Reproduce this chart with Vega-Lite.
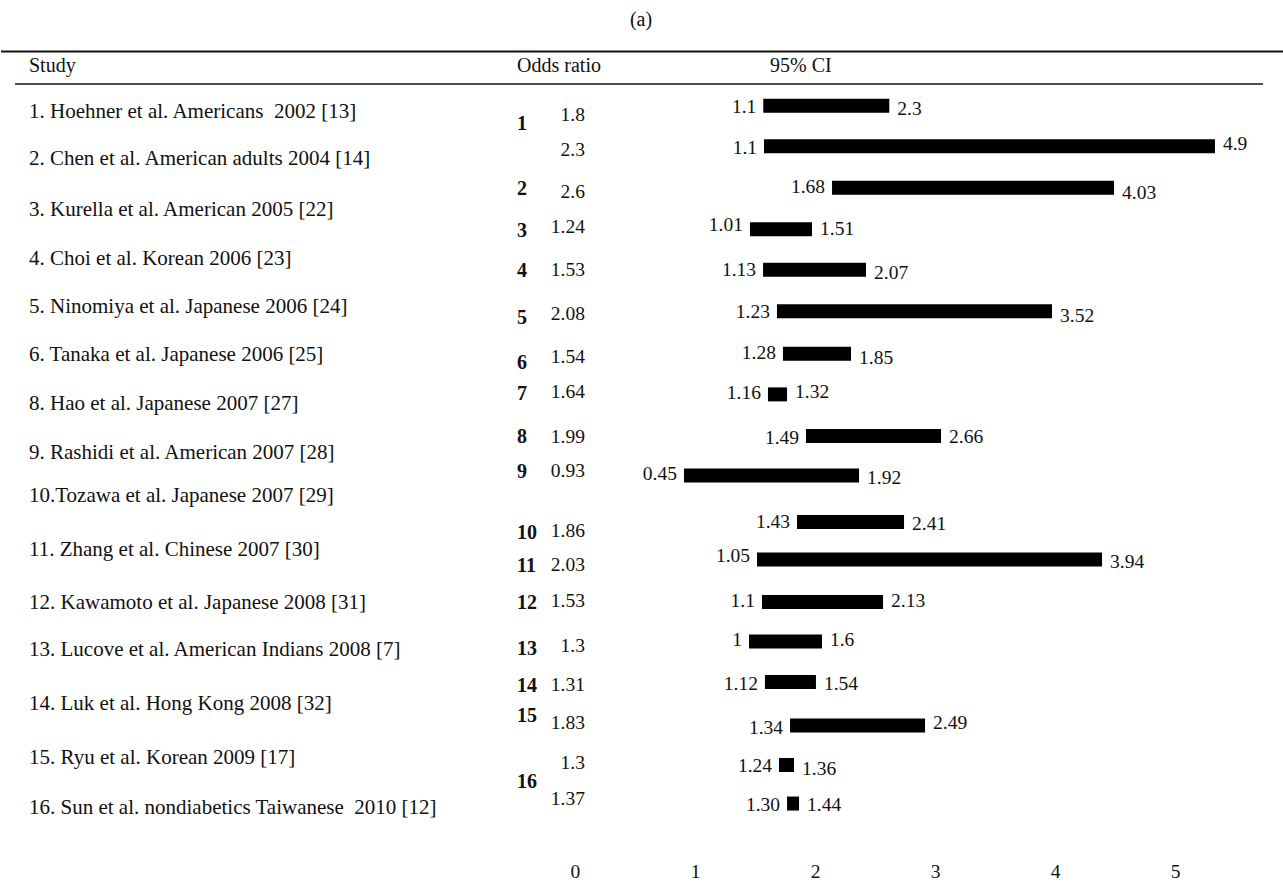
{
  "$schema": "https://vega.github.io/schema/vega-lite/v6.json",
  "width": 1283,
  "height": 855,
  "padding": 0,
  "background": "white",
  "config": {
    "view": {"stroke": null},
    "text": {"font": "Liberation Serif", "fontSize": 19.5, "color": "#111", "baseline": "middle"},
    "axis": {"labelFont": "Liberation Serif"}
  },
  "datasets": {
    "single": [{}],
    "studies": [
      {"study": "1. Hoehner et al. Americans\u00a0 2002 [13]", "pos": 1.0},
      {"study": "2. Chen et al. American adults 2004 [14]", "pos": 1.96},
      {"study": "3. Kurella et al. American 2005 [22]", "pos": 2.98},
      {"study": "4. Choi et al. Korean 2006 [23]", "pos": 3.98},
      {"study": "5. Ninomiya et al. Japanese 2006 [24]", "pos": 4.96},
      {"study": "6. Tanaka et al. Japanese 2006 [25]", "pos": 5.92},
      {"study": "8. Hao et al. Japanese 2007 [27]", "pos": 6.92},
      {"study": "9. Rashidi et al. American 2007 [28]", "pos": 7.9},
      {"study": "10.Tozawa et al. Japanese 2007 [29]", "pos": 8.78},
      {"study": "11. Zhang et al. Chinese 2007 [30]", "pos": 9.86},
      {"study": "12. Kawamoto et al. Japanese 2008 [31]", "pos": 10.94},
      {"study": "13. Lucove et al. American Indians 2008 [7]", "pos": 11.9},
      {"study": "14. Luk et al. Hong Kong 2008 [32]", "pos": 12.98},
      {"study": "15. Ryu et al. Korean 2009 [17]", "pos": 14.08},
      {"study": "16. Sun et al. nondiabetics Taiwanese\u00a0 2010 [12]", "pos": 15.1}
    ],
    "indexes": [
      {"index": "1", "pos": 1.24},
      {"index": "2", "pos": 2.56},
      {"index": "3", "pos": 3.42},
      {"index": "4", "pos": 4.22},
      {"index": "5", "pos": 5.18},
      {"index": "6", "pos": 6.08},
      {"index": "7", "pos": 6.72},
      {"index": "8", "pos": 7.58},
      {"index": "9", "pos": 8.3},
      {"index": "10", "pos": 9.52},
      {"index": "11", "pos": 10.2},
      {"index": "12", "pos": 10.94},
      {"index": "13", "pos": 11.88},
      {"index": "14", "pos": 12.62},
      {"index": "15", "pos": 13.22},
      {"index": "16", "pos": 14.56}
    ],
    "forest": [
      {"or": "1.8", "or_pos": 1.07, "lo": "1.1", "hi": "2.3", "bar_from": 1.569, "bar_to": 2.619, "bar_pos": 0.88, "lo_pos": 0.9, "hi_pos": 0.94},
      {"or": "2.3", "or_pos": 1.78, "lo": "1.1", "hi": "4.9", "bar_from": 1.575, "bar_to": 5.333, "bar_pos": 1.7, "lo_pos": 1.74, "hi_pos": 1.66},
      {"or": "2.6", "or_pos": 2.62, "lo": "1.68", "hi": "4.03", "bar_from": 2.142, "bar_to": 4.492, "bar_pos": 2.54, "lo_pos": 2.52, "hi_pos": 2.64},
      {"or": "1.24", "or_pos": 3.34, "lo": "1.01", "hi": "1.51", "bar_from": 1.458, "bar_to": 1.975, "bar_pos": 3.38, "lo_pos": 3.3, "hi_pos": 3.38},
      {"or": "1.53", "or_pos": 4.2, "lo": "1.13", "hi": "2.07", "bar_from": 1.567, "bar_to": 2.425, "bar_pos": 4.2, "lo_pos": 4.2, "hi_pos": 4.26},
      {"or": "2.08", "or_pos": 5.1, "lo": "1.23", "hi": "3.52", "bar_from": 1.683, "bar_to": 3.975, "bar_pos": 5.04, "lo_pos": 5.06, "hi_pos": 5.14},
      {"or": "1.54", "or_pos": 5.96, "lo": "1.28", "hi": "1.85", "bar_from": 1.733, "bar_to": 2.3, "bar_pos": 5.9, "lo_pos": 5.88, "hi_pos": 5.98},
      {"or": "1.64", "or_pos": 6.68, "lo": "1.16", "hi": "1.32", "bar_from": 1.608, "bar_to": 1.767, "bar_pos": 6.72, "lo_pos": 6.7, "hi_pos": 6.68},
      {"or": "1.99", "or_pos": 7.58, "lo": "1.49", "hi": "2.66", "bar_from": 1.925, "bar_to": 3.05, "bar_pos": 7.56, "lo_pos": 7.6, "hi_pos": 7.58},
      {"or": "0.93", "or_pos": 8.28, "lo": "0.45", "hi": "1.92", "bar_from": 0.908, "bar_to": 2.367, "bar_pos": 8.36, "lo_pos": 8.34, "hi_pos": 8.42},
      {"or": "1.86", "or_pos": 9.48, "lo": "1.43", "hi": "2.41", "bar_from": 1.85, "bar_to": 2.742, "bar_pos": 9.3, "lo_pos": 9.3, "hi_pos": 9.34},
      {"or": "2.03", "or_pos": 10.18, "lo": "1.05", "hi": "3.94", "bar_from": 1.517, "bar_to": 4.392, "bar_pos": 10.06, "lo_pos": 10.0, "hi_pos": 10.12},
      {"or": "1.53", "or_pos": 10.9, "lo": "1.1", "hi": "2.13", "bar_from": 1.558, "bar_to": 2.567, "bar_pos": 10.92, "lo_pos": 10.9, "hi_pos": 10.9},
      {"or": "1.3", "or_pos": 11.82, "lo": "1", "hi": "1.6", "bar_from": 1.45, "bar_to": 2.058, "bar_pos": 11.72, "lo_pos": 11.7, "hi_pos": 11.7},
      {"or": "1.31", "or_pos": 12.6, "lo": "1.12", "hi": "1.54", "bar_from": 1.583, "bar_to": 2.008, "bar_pos": 12.54, "lo_pos": 12.58, "hi_pos": 12.58},
      {"or": "1.83", "or_pos": 13.38, "lo": "1.34", "hi": "2.49", "bar_from": 1.792, "bar_to": 2.917, "bar_pos": 13.42, "lo_pos": 13.48, "hi_pos": 13.38},
      {"or": "1.3", "or_pos": 14.18, "lo": "1.24", "hi": "1.36", "bar_from": 1.7, "bar_to": 1.825, "bar_pos": 14.22, "lo_pos": 14.24, "hi_pos": 14.3},
      {"or": "1.37", "or_pos": 14.9, "lo": "1.30", "hi": "1.44", "bar_from": 1.767, "bar_to": 1.867, "bar_pos": 15.0, "lo_pos": 15.02, "hi_pos": 15.02}
    ]
  },
  "encoding": {
    "x": {"type": "quantitative", "scale": {"domain": [-4.7833, 5.9083], "nice": false, "zero": false}},
    "y": {"type": "quantitative", "scale": {"domain": [-1.16, 15.94], "nice": false, "zero": false, "reverse": true}, "axis": null}
  },
  "layer": [
    {
      "data": {"name": "single"},
      "mark": {"type": "rule", "strokeWidth": 2, "color": "#111"},
      "encoding": {"y": {"datum": -0.22, "type": "quantitative"}}
    },
    {
      "data": {"name": "single"},
      "mark": {"type": "rule", "strokeWidth": 1.5, "color": "#111"},
      "encoding": {
        "x": {"datum": -4.667, "type": "quantitative"},
        "x2": {"datum": 5.733},
        "y": {"datum": 0.44, "type": "quantitative"}
      }
    },
    {
      "data": {"name": "single"},
      "mark": {"type": "text", "text": "(a)", "align": "center", "fontSize": 20},
      "encoding": {"x": {"datum": 0.55, "type": "quantitative"}, "y": {"datum": -0.86, "type": "quantitative"}}
    },
    {
      "data": {"name": "single"},
      "mark": {"type": "text", "text": "Study", "align": "left", "fontSize": 20},
      "encoding": {"x": {"datum": -4.55, "type": "quantitative"}, "y": {"datum": 0.08, "type": "quantitative"}}
    },
    {
      "data": {"name": "single"},
      "mark": {"type": "text", "text": "Odds ratio", "align": "center", "fontSize": 20},
      "encoding": {"x": {"datum": -0.133, "type": "quantitative"}, "y": {"datum": 0.08, "type": "quantitative"}}
    },
    {
      "data": {"name": "single"},
      "mark": {"type": "text", "text": "95% CI", "align": "left", "fontSize": 20},
      "encoding": {"x": {"datum": 1.625, "type": "quantitative"}, "y": {"datum": 0.08, "type": "quantitative"}}
    },
    {
      "data": {"name": "studies"},
      "mark": {"type": "text", "align": "left", "fontSize": 21},
      "encoding": {
        "x": {"datum": -4.55, "type": "quantitative"},
        "y": {"field": "pos", "type": "quantitative"},
        "text": {"field": "study"}
      }
    },
    {
      "data": {"name": "indexes"},
      "mark": {"type": "text", "align": "left", "fontSize": 20, "fontWeight": "bold"},
      "encoding": {
        "x": {"datum": -0.483, "type": "quantitative"},
        "y": {"field": "pos", "type": "quantitative"},
        "text": {"field": "index"}
      }
    },
    {
      "data": {"name": "forest"},
      "mark": {"type": "text", "align": "right"},
      "encoding": {
        "x": {"datum": 0.083, "type": "quantitative"},
        "y": {"field": "or_pos", "type": "quantitative"},
        "text": {"field": "or"}
      }
    },
    {
      "data": {"name": "forest"},
      "mark": {"type": "bar", "size": 14, "color": "#000"},
      "encoding": {
        "x": {"field": "bar_from", "type": "quantitative",
              "axis": {"values": [0, 1, 2, 3, 4, 5], "format": "d", "title": null, "domain": false, "ticks": false, "grid": false,
                       "labelFontSize": 19.5, "labelColor": "#111", "labelPadding": 7, "labelFont": "Liberation Serif"}},
        "x2": {"field": "bar_to"},
        "y": {"field": "bar_pos", "type": "quantitative"}
      }
    },
    {
      "data": {"name": "forest"},
      "mark": {"type": "text", "align": "right", "dx": -7},
      "encoding": {
        "x": {"field": "bar_from", "type": "quantitative"},
        "y": {"field": "lo_pos", "type": "quantitative"},
        "text": {"field": "lo"}
      }
    },
    {
      "data": {"name": "forest"},
      "mark": {"type": "text", "align": "left", "dx": 8},
      "encoding": {
        "x": {"field": "bar_to", "type": "quantitative"},
        "y": {"field": "hi_pos", "type": "quantitative"},
        "text": {"field": "hi"}
      }
    }
  ]
}
